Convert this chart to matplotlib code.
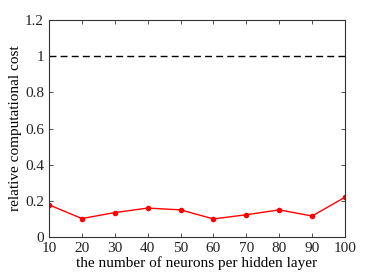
import matplotlib
matplotlib.use("Agg")
import matplotlib.pyplot as plt

neurons = [10, 20, 30, 40, 50, 60, 70, 80, 90, 100]
cost = [0.178, 0.102, 0.135, 0.160, 0.150, 0.100, 0.123, 0.150, 0.116, 0.220]
baseline = [1.0, 1.0]
x_ticks = [10, 20, 30, 40, 50, 60, 70, 80, 90, 100]
y_ticks = [0, 0.2, 0.4, 0.6, 0.8, 1, 1.2]
y_labels = ["0", "0.2", "0.4", "0.6", "0.8", "1", "1.2"]

plt.rcParams["font.family"] = ["Liberation Serif", "DejaVu Serif"]

fig = plt.figure(figsize=(3.82, 2.73), dpi=100)
ax = fig.add_axes([49 / 382, 36 / 273, 296 / 382, 217 / 273])

ax.plot([10, 100], baseline, color="black", linestyle=(0, (5, 3)), linewidth=1.0)
ax.plot(neurons, cost, color="red", linewidth=1.0, marker="o", markersize=3)

ax.set_xlim(10, 100)
ax.set_ylim(0, 1.2)
ax.set_xticks(x_ticks)
ax.set_yticks(y_ticks)
ax.set_yticklabels(y_labels)
ax.tick_params(direction="in", top=True, right=True, length=3, width=0.6,
               labelsize=11, colors="#333333", labelcolor="#222222")
for spine in ax.spines.values():
    spine.set_linewidth(0.8)
    spine.set_color("#333333")

ax.set_xlabel("the number of neurons per hidden layer", fontsize=11, labelpad=1)
ax.set_ylabel("relative computational cost", fontsize=11, labelpad=2)

fig.savefig("out.png", dpi=100, facecolor="white")
